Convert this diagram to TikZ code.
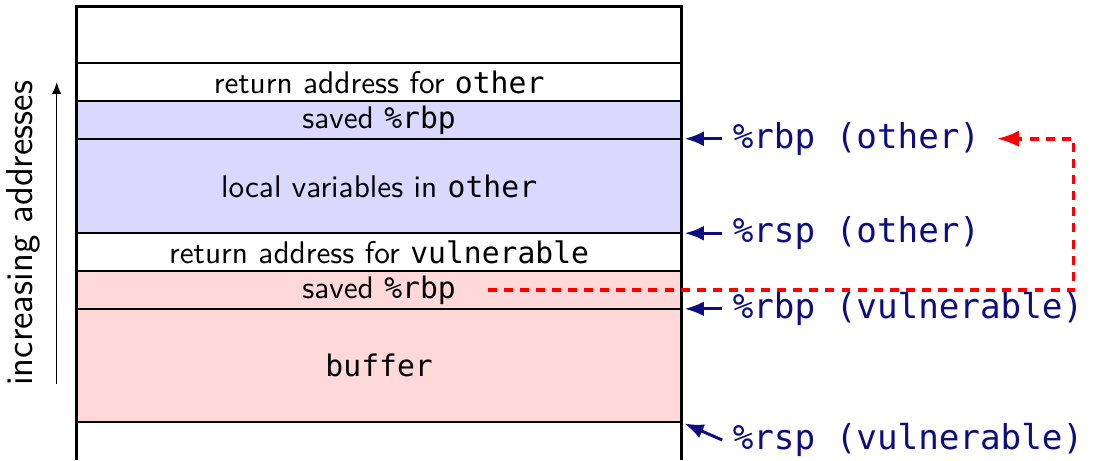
\documentclass[tikz,border=0pt]{standalone}
\usepackage{fontspec}
\setmonofont{DejaVu Sans Mono}[Scale=0.95]
\usetikzlibrary{arrows.meta,positioning}
\definecolor{regblue}{rgb}{0.05,0.05,0.5}
\newlength\slotu
\setlength\slotu{0.446cm}

\begin{document}
\begin{tikzpicture}[x=\slotu,y=\slotu,font=\sffamily,
  slot/.style={draw,line width=0.7pt,minimum width=16*\slotu,minimum height=#1*\slotu,inner sep=0pt,outer sep=0pt,
    font=\sffamily\fontsize{10.5}{12.6}\selectfont},
  reg/.style={font=\fontsize{12.1}{14}\selectfont\ttfamily,text=regblue,anchor=west},
  ptr/.style={-{Latex[length=6.5pt,width=5pt]},line width=1pt,regblue,shorten >=1pt},
  leakline/.style={-{Latex[length=7.5pt,width=5.5pt]},red,line width=1.2pt,dash pattern=on 3pt off 2.4pt}]
\useasboundingbox (0,0) rectangle (29.1,12.17);
% the stack, lowest address at the bottom
\node[slot=1,draw=none,anchor=south west] (blank0) at (2.03,0) {};
\node[slot=3,fill=red!15,above=0pt of blank0] (buffer) {\texttt{buffer}};
\node[slot=1,fill=red!15,above=0pt of buffer] (savedv) {saved \texttt{\%rbp}};
\node[slot=1,above=0pt of savedv] (retv) {return address for \texttt{vulnerable}};
\node[slot=2.5,fill=blue!15,above=0pt of retv] (locals) {local variables in \texttt{other}};
\node[slot=1,fill=blue!15,above=0pt of locals] (savedo) {saved \texttt{\%rbp}};
\node[slot=1,above=0pt of savedo] (reto) {return address for \texttt{other}};
\node[slot=1.5,above=0pt of reto] (blank1) {};
\draw[line width=1pt] (blank0.south west) |- (blank1.north east) -- (blank0.south east);

% direction of the addresses
\node[rotate=90,anchor=base,font=\sffamily\fontsize{12.6}{15}\selectfont] (incr) at (0.87,6) {increasing addresses};
\coordinate (lo) at (1.5,2);
\coordinate (hi) at (1.5,10);
\draw[-{Latex[length=4pt,width=3.2pt]},line width=0.5pt] (lo) -- (hi);

% registers
\node[reg,right=0.48cm of locals.north east] (rbpo) {\%rbp (other)};
\node[reg,right=0.48cm of locals.south east] (rspo) {\%rsp (other)};
\node[reg,right=0.48cm of buffer.north east] (rbpv) {\%rbp (vulnerable)};
\node[reg,right=0.48cm of buffer.south east,yshift=-0.21cm] (rspv) {\%rsp (vulnerable)};
\draw[ptr] (rbpo.west) -- (locals.north east);
\draw[ptr] (rspo.west) -- (locals.south east);
\draw[ptr] (rbpv.west) -- (buffer.north east);
\draw[ptr] (rspv.west) -- (buffer.south east);

% saved %rbp points back to other's frame
\coordinate (leak) at ([xshift=1.28cm]savedv.center);
\draw[leakline,shorten >=2pt] (leak) -- ++(15.5,0) |- (rbpo.east);
\end{tikzpicture}
\end{document}
